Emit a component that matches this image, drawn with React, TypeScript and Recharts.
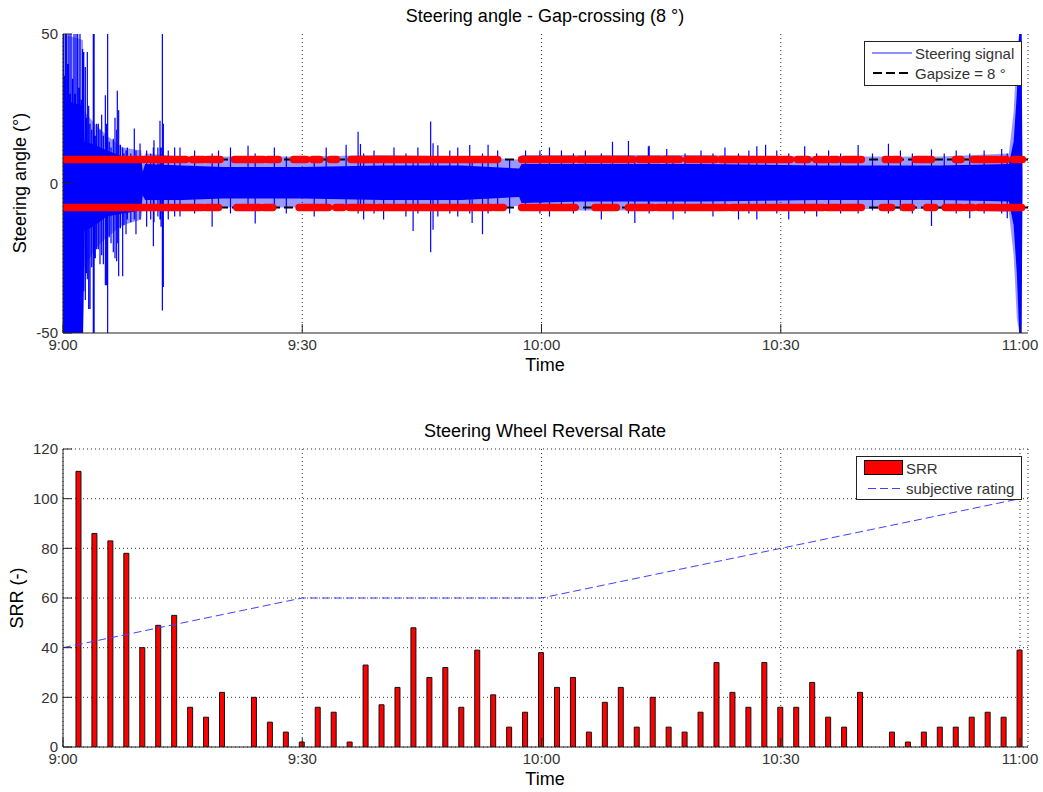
import React from 'react';
import {
  ComposedChart,
  Bar,
  Area,
  Line,
  XAxis,
  YAxis,
  CartesianGrid,
  ReferenceLine,
} from 'recharts';

const FONT = '"Liberation Sans", Arial, Helvetica, sans-serif';

// ---------- shared time axis (minutes after 9:00) ----------
const timeTicks = [0, 30, 60, 90, 120];
const timeTickLabels = ['9:00', '9:30', '10:00', '10:30', '11:00'];

// ---------- top panel: steering angle ----------
const angleTicks = [-50, 0, 50];
const gapSize = 8;

// envelope of the dense steering signal: [minute, coreLo, coreHi, outerLo, outerHi]
const signalEnvelope: number[][] = [
  [0, -50, 28, -50, 50],
  [2.5, -50, 26, -50, 48],
  [2.7, -16, 14, -28, 24],
  [4.0, -14, 13, -22, 20],
  [5.5, -11, 11, -18, 16],
  [7.5, -10, 9, -14, 12],
  [9.8, -9, 9, -12, 11],
  [10.0, -4, 4, -7, 7],
  [10.3, -5.5, 6.5, -9, 10],
  [15.0, -5.5, 6, -8.5, 9],
  [20.0, -5, 5.5, -8, 9],
  [30.0, -5, 5.5, -8, 9],
  [40.0, -5.5, 6, -8.5, 9.5],
  [50.0, -5.5, 6, -8.5, 9],
  [57.2, -4.5, 5, -7.5, 8],
  [57.5, -6.5, 6.5, -9, 9.5],
  [65.0, -6, 6.5, -9, 9.5],
  [80.0, -6, 6.5, -9, 9.5],
  [95.0, -5.5, 6, -8.5, 9],
  [110.0, -5.5, 6, -8.5, 9],
  [118.6, -6, 6.5, -9.5, 10],
  [119.2, -14, 14, -24, 24],
  [119.6, -30, 30, -45, 45],
  [119.9, -50, 50, -50, 50],
  [120.2, -50, 50, -50, 50],
  [120.3, -2, 2, -2, 2],
];

// individual excursions of the steering signal: [minute, low, high]
const signalSpikes: number[][] = [
  [0.05, -50, 50], [0.2, -50, 36], [0.3, -50, 50], [0.46, -50, 50], [0.6, -50, 40],
  [0.75, -50, 50], [0.9, -48, 30], [1.0, -50, 50], [1.2, -50, 35], [1.38, -50, 50],
  [1.5, -42, 30], [1.63, -50, 50], [1.75, -46, 25], [1.84, -50, 50], [2.0, -50, 32],
  [2.13, -50, 50], [2.3, -44, 28], [2.45, -50, 45], [2.6, -36, 44], [2.8, -39, 39],
  [2.95, -30, 22], [3.05, -32, 44], [3.22, -42, 26], [3.39, -42, 20], [3.6, -28, 18],
  [3.8, -50, 50], [3.9, -50, 50], [4.05, -25, 16], [4.22, -22, 20], [4.43, -22, 20],
  [4.64, -27, 18], [4.85, -24, 23], [5.06, -27, 16], [5.31, -34, 29.5], [5.47, -34, 20],
  [5.6, -50, 50], [5.8, -18, 14], [6.02, -20, 12], [6.31, -23, 15], [6.52, -25, 22],
  [6.73, -26, 18], [6.81, -20, 31], [6.98, -31, 24.5], [7.2, -15, 13], [7.48, -31, 12],
  [7.65, -14, 10], [7.9, -17, 11], [8.07, -12, 12], [8.5, -13, 10], [8.94, -12, 18.4],
  [9.15, -17, 11], [9.66, -12, 13.4], [10.49, -14.5, 11], [11.0, -12, 10], [11.33, -21, 12],
  [11.41, -13, 14.5], [11.9, -11, 12], [12.16, -12, 21], [12.29, -14.5, 12], [12.46, -42.5, 50],
  [12.58, -34.6, 20], [13.2, -12, 11], [14.0, -11, 12], [14.67, -11, 12],
  [16.5, -10, 11], [18.7, -14.5, 10], [19.5, -9, 11], [21.0, -10, 12], [23.2, -9, 12.6],
  [24.1, -13.4, 10], [26.5, -9, 12], [28.0, -10, 9], [31.5, -11, 9], [33.0, -9, 12],
  [35.5, -8, 13], [37.0, -10, 17.3], [37.3, -9, 13.2], [37.7, -12, 10], [39.0, -10, 11],
  [40.2, -12, 9], [41.5, -9, 12], [43.0, -11, 10], [43.9, -15.9, 9], [44.5, -10, 12],
  [46.1, -23, 20.7], [46.4, -15.5, 13.5], [47.0, -11, 12.8], [48.5, -10, 11], [49.5, -11, 12],
  [51.0, -10, 12.9], [51.3, -13.2, 9], [52.6, -17, 10], [53.3, -10, 13], [54.5, -9, 11],
  [56.0, -10, 8], [58.0, -9, 11], [59.8, -10, 11], [61.0, -11, 12], [62.5, -9, 11],
  [64.0, -10, 10], [65.5, -9, 11], [67.5, -12, 10], [68.9, -9, 14], [70.9, -10, 14.2],
  [71.7, -13.2, 9], [73.4, -9, 12.4], [73.5, -10, 12.6], [75.7, -9, 11.5], [76.5, -12, 9],
  [78.0, -10, 10], [80.0, -9, 11], [81.5, -11, 10], [83.0, -9, 12], [84.7, -12, 10],
  [86.0, -10, 11], [87.0, -12, 12.5], [88.1, -9, 13], [89.5, -10, 11], [91.0, -12, 10],
  [93.0, -10, 12.5], [94.5, -11, 10], [96.0, -9, 11], [97.5, -10, 10], [99.7, -10, 12.9],
  [101.5, -9, 10], [103.5, -10, 13.3], [105.0, -9, 11], [106.5, -10, 10], [108.9, -14.2, 11.4],
  [110.5, -9, 10], [112.0, -10, 11], [113.7, -11.6, 10], [115.5, -10, 11], [117.7, -10, 11.5],
  [118.4, -11.6, 10],
];

// runs of gap crossings (red markers) on the +8 and -8 lines: [startMinute, endMinute]
const upperCrossings: number[][] = [
  [0, 15.4], [16.2, 17.6], [18.1, 19.7], [21.5, 22.7], [22.9, 25.1], [25.7, 27.0],
  [28.9, 30.5], [31.3, 32.2], [33.5, 34.3], [36.1, 39.6], [39.8, 45.1], [45.3, 48.0],
  [48.2, 50.4], [50.6, 54.5], [57.5, 64.0], [64.7, 66.5], [66.8, 68.6], [69.0, 71.4],
  [72.2, 74.8], [75.4, 77.3], [78.2, 81.8], [82.5, 91.2], [92.1, 93.4], [94.4, 95.8],
  [96.4, 97.1], [97.9, 100.1], [103.1, 103.7], [104.1, 104.8], [106.9, 108.9], [111.9, 112.6],
  [114.1, 115.0], [115.2, 116.0], [116.2, 117.1], [117.5, 118.3], [119.2, 120.3],
];
const lowerCrossings: number[][] = [
  [0, 17.5], [18.0, 19.5], [21.8, 23.0], [23.4, 24.7], [25.2, 26.3], [29.6, 30.8],
  [31.0, 33.3], [34.2, 35.1], [35.9, 39.1], [39.5, 41.4], [41.8, 45.0], [45.2, 47.3],
  [47.5, 49.8], [50.0, 51.9], [52.3, 53.7], [54.2, 55.2], [57.5, 64.2], [66.7, 69.4],
  [70.9, 74.0], [74.6, 77.5], [77.7, 80.3], [80.4, 83.2], [83.8, 90.6], [90.8, 91.8],
  [92.0, 95.3], [95.8, 97.2], [97.6, 100.1], [102.7, 103.9], [105.4, 106.4], [108.3, 109.3],
  [110.6, 112.7], [113.3, 114.1], [114.8, 117.3], [117.7, 118.7], [118.9, 120.2],
];

// ---------- bottom panel: steering wheel reversal rate ----------
const srrTicks = [0, 20, 40, 60, 80, 100, 120];
const srrMinutes = [
  2, 4, 6, 8, 10, 12, 14, 16, 18, 20, 22, 24, 26, 28, 30, 32, 34, 36, 38, 40,
  42, 44, 46, 48, 50, 52, 54, 56, 58, 60, 62, 64, 66, 68, 70, 72, 74, 76, 78, 80,
  82, 84, 86, 88, 90, 92, 94, 96, 98, 100, 102, 104, 106, 108, 110, 112, 114, 116, 118, 120,
];
const srrValues = [
  111, 86, 83, 78, 40, 49, 53, 16, 12, 22, 0, 20, 10, 6, 2, 16, 14, 2, 33, 17,
  24, 48, 28, 32, 16, 39, 21, 8, 14, 38, 24, 28, 6, 18, 24, 8, 20, 8, 6, 14,
  34, 22, 16, 34, 16, 16, 26, 12, 8, 22, 0, 6, 2, 6, 8, 8, 12, 14, 12, 39,
];
const ratingMinutes = [0, 30, 60, 120];
const ratingValues = [40, 60, 60, 100];

// ---------- derived tables ----------
type Row = { t: number; v: number | null };
// each spike becomes a vertical stroke: (t, lo) -> (t, hi), then a break
const spikeRows: Row[] = [];
signalSpikes.forEach(([t, lo, hi]) => {
  spikeRows.push({ t, v: lo });
  spikeRows.push({ t, v: hi });
  spikeRows.push({ t, v: null });
});
const envelopeData = signalEnvelope.map(([t, cl, ch, ol, oh]) => ({
  t,
  core: [cl, ch],
  outer: [ol, oh],
}));
function crossingRows(runs: number[][], level: number) {
  const rows: Row[] = [];
  runs.forEach(([a, b]) => {
    rows.push({ t: a, v: level });
    rows.push({ t: b, v: level });
    rows.push({ t: b, v: null });
  });
  return rows;
}
const upperRows = crossingRows(upperCrossings, gapSize);
const lowerRows = crossingRows(lowerCrossings, -gapSize);
const srrData = srrMinutes.map((t, i) => ({ t, srr: srrValues[i] }));
const ratingData = ratingMinutes.map((t, i) => ({ t, rating: ratingValues[i] }));

const fmtTime = (v: number) => {
  const i = timeTicks.indexOf(v);
  return i >= 0 ? timeTickLabels[i] : '';
};
const blank = () => '';

const tickStyle = { fill: '#333', fontSize: 15, fontFamily: FONT };
const AXIS = '#222';
const X_DOMAIN: [number, number] = [0, 121];

export default function App() {
  return (
    <div
      style={{
        position: 'absolute',
        left: 0,
        top: 0,
        width: 1043,
        height: 792,
        background: '#fff',
        overflow: 'hidden',
      }}
    >
      {/* top panel */}
      <div style={{ position: 'absolute', left: 0, top: 0 }}>
        <ComposedChart
          width={1043}
          height={400}
          data={envelopeData}
          margin={{ top: 34, right: 15, bottom: 27, left: 8 }}
        >
          <CartesianGrid horizontal={false} stroke="#333" strokeDasharray="1 3" />
          <XAxis
            dataKey="t"
            type="number"
            domain={X_DOMAIN}
            ticks={timeTicks}
            interval={0}
            tickFormatter={fmtTime}
            allowDataOverflow
            height={40}
            tickSize={-9}
            tickMargin={15}
            stroke={AXIS}
            tick={tickStyle}
          />
          <XAxis
            xAxisId="top"
            orientation="top"
            type="number"
            domain={X_DOMAIN}
            ticks={timeTicks}
            interval={0}
            tickFormatter={blank}
            allowDataOverflow
            height={0}
            tickSize={-9}
            stroke={AXIS}
          />
          <YAxis
            type="number"
            domain={[-50, 50]}
            ticks={angleTicks}
            interval={0}
            allowDataOverflow
            width={55}
            tickSize={-9}
            tickMargin={14}
            stroke={AXIS}
            tick={tickStyle}
          />
          <YAxis
            yAxisId="right"
            orientation="right"
            type="number"
            domain={[-50, 50]}
            ticks={angleTicks}
            interval={0}
            tickFormatter={blank}
            allowDataOverflow
            width={0}
            tickSize={-8}
            stroke={AXIS}
          />
          <Area
            dataKey="outer"
            type="linear"
            stroke="none"
            fill="#0000ff"
            fillOpacity={0.4}
            isAnimationActive={false}
          />
          <Area
            dataKey="core"
            type="linear"
            stroke="none"
            fill="#0000ff"
            fillOpacity={1}
            isAnimationActive={false}
          />
          <Line
            data={spikeRows}
            dataKey="v"
            type="linear"
            stroke="#0000ff"
            strokeWidth={1.2}
            dot={false}
            connectNulls={false}
            isAnimationActive={false}
          />
          <ReferenceLine y={gapSize} stroke="#000" strokeWidth={2} strokeDasharray="9 4" />
          <ReferenceLine y={-gapSize} stroke="#000" strokeWidth={2} strokeDasharray="9 4" />
          <Line
            data={upperRows}
            dataKey="v"
            type="linear"
            stroke="#ff0000"
            strokeWidth={7.5}
            strokeLinecap="round"
            dot={false}
            connectNulls={false}
            isAnimationActive={false}
          />
          <Line
            data={lowerRows}
            dataKey="v"
            type="linear"
            stroke="#ff0000"
            strokeWidth={7.5}
            strokeLinecap="round"
            dot={false}
            connectNulls={false}
            isAnimationActive={false}
          />
        </ComposedChart>
      </div>

      {/* bottom panel */}
      <div style={{ position: 'absolute', left: 0, top: 400 }}>
        <ComposedChart
          width={1043}
          height={392}
          data={srrData}
          margin={{ top: 49, right: 15, bottom: 15, left: 8 }}
        >
          <CartesianGrid stroke="#333" strokeDasharray="1 3" />
          <XAxis
            dataKey="t"
            type="number"
            domain={X_DOMAIN}
            ticks={timeTicks}
            interval={0}
            tickFormatter={fmtTime}
            allowDataOverflow
            height={30}
            tickSize={-9}
            tickMargin={15}
            stroke={AXIS}
            tick={tickStyle}
          />
          <XAxis
            xAxisId="top"
            orientation="top"
            type="number"
            domain={X_DOMAIN}
            ticks={timeTicks}
            interval={0}
            tickFormatter={blank}
            allowDataOverflow
            height={0}
            tickSize={-9}
            stroke={AXIS}
          />
          <YAxis
            type="number"
            domain={[0, 120]}
            ticks={srrTicks}
            interval={0}
            allowDataOverflow
            width={55}
            tickSize={-9}
            tickMargin={14}
            stroke={AXIS}
            tick={tickStyle}
          />
          <YAxis
            yAxisId="right"
            orientation="right"
            type="number"
            domain={[0, 120]}
            ticks={srrTicks}
            interval={0}
            tickFormatter={blank}
            allowDataOverflow
            width={0}
            tickSize={-8}
            stroke={AXIS}
          />
          <Bar
            dataKey="srr"
            barSize={5}
            fill="#ff0000"
            stroke="#111"
            strokeWidth={1}
            isAnimationActive={false}
          />
          <Line
            data={ratingData}
            dataKey="rating"
            type="linear"
            stroke="#4040ff"
            strokeWidth={1}
            strokeDasharray="8 4"
            dot={false}
            isAnimationActive={false}
          />
        </ComposedChart>
      </div>

      {/* titles, axis labels, legends */}
      <svg
        width={1043}
        height={792}
        style={{ position: 'absolute', left: 0, top: 0, pointerEvents: 'none' }}
        fontFamily={FONT}
      >
        <text x={545} y={22} textAnchor="middle" fontSize={18} fill="#000">
          Steering angle - Gap-crossing (8 °)
        </text>
        <text x={545} y={371} textAnchor="middle" fontSize={18} fill="#000">
          Time
        </text>
        <text
          x={26}
          y={183}
          textAnchor="middle"
          fontSize={18}
          fill="#000"
          transform="rotate(-90 26 183)"
        >
          Steering angle (°)
        </text>

        <text x={545} y={437} textAnchor="middle" fontSize={18} fill="#000">
          Steering Wheel Reversal Rate
        </text>
        <text x={545} y={785} textAnchor="middle" fontSize={18} fill="#000">
          Time
        </text>
        <text
          x={23}
          y={598}
          textAnchor="middle"
          fontSize={18}
          fill="#000"
          transform="rotate(-90 23 598)"
        >
          SRR (-)
        </text>

        {/* top legend */}
        <rect x={864.5} y={41.5} width={157} height={44} fill="#fff" stroke="#222" strokeWidth={1} />
        <line x1={872} y1={53} x2={912} y2={53} stroke="#2020ff" strokeWidth={1.2} />
        <text x={915} y={59} fontSize={15} fill="#333">
          Steering signal
        </text>
        <line x1={873} y1={73} x2={912} y2={73} stroke="#000" strokeWidth={2} strokeDasharray="9 4" />
        <text x={915} y={79} fontSize={15} fill="#333">
          Gapsize = 8 °
        </text>

        {/* bottom legend */}
        <rect x={856.5} y={456.5} width={165} height={43} fill="#fff" stroke="#222" strokeWidth={1} />
        <rect x={864.5} y={460.5} width={38} height={14} fill="#ff0000" stroke="#000" strokeWidth={1} />
        <text x={906} y={474} fontSize={15} fill="#333">
          SRR
        </text>
        <line x1={868} y1={488.5} x2={903} y2={488.5} stroke="#4040ff" strokeWidth={1} strokeDasharray="8 4" />
        <text x={906} y={494} fontSize={15} fill="#333">
          subjective rating
        </text>
      </svg>
    </div>
  );
}
